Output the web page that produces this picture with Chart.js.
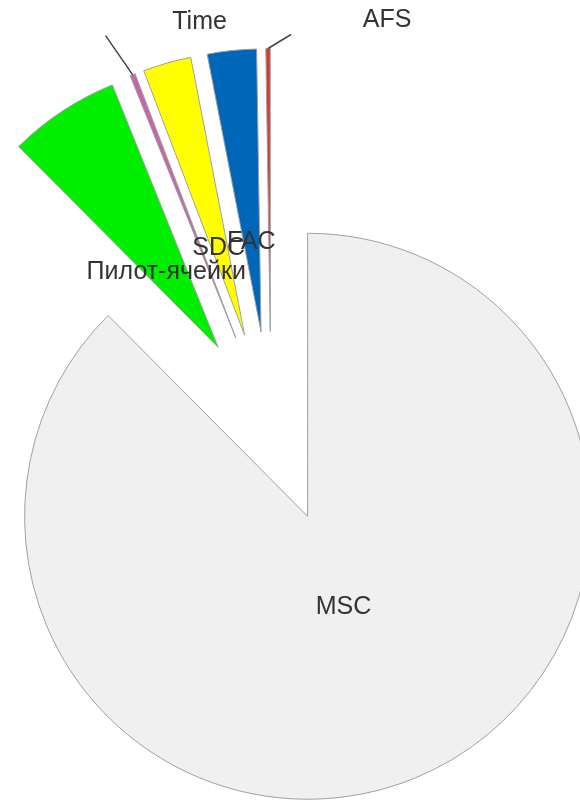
<!DOCTYPE html>
<html>
<head>
<meta charset="utf-8">
<script src="https://cdn.jsdelivr.net/npm/chart.js@4.4.1/dist/chart.umd.min.js"></script>
<style>
  html, body { margin: 0; padding: 0; background: #fff; }
  #wrap { width: 580px; height: 803px; position: relative; }
</style>
</head>
<body>
<div id="wrap"><canvas id="pieChart"></canvas></div>
<script>
// Share of each category, clockwise from 12 o'clock
const categories = ['MSC', 'Пилот-ячейки', 'Time', 'SDC', 'FAC', 'AFS'];
const shares = [87.55, 6.35, 0.3, 2.75, 2.8, 0.25];
const sliceColors = ['#f0f0f0', '#00ee00', '#c466a8', '#ffff00', '#0066b8', '#d23a3a'];

// How far every slice is pulled out from the centre
const explode = 96;

// Small slices get a leader line instead of an inside label
const leaders = {
  'Time': { dx: -27, dy: -39, tx: 94, ty: -14 },
  'AFS': { dx: 23, dy: -14, tx: 96, ty: -14 }
};

const explodePlugin = {
  id: 'explode',
  afterDatasetUpdate(chart, args) {
    const meta = chart.getDatasetMeta(args.index);
    meta.data.forEach(arc => {
      const mid = (arc.startAngle + arc.endAngle) / 2;
      arc.x += Math.cos(mid) * explode;
      arc.y += Math.sin(mid) * explode;
    });
  }
};

const labelPlugin = {
  id: 'sliceLabels',
  afterDatasetsDraw(chart) {
    const ctx = chart.ctx;
    const meta = chart.getDatasetMeta(0);
    ctx.save();
    ctx.font = '25px "Liberation Sans", Arial, sans-serif';
    ctx.fillStyle = '#333';
    ctx.textAlign = 'center';
    ctx.textBaseline = 'middle';
    meta.data.forEach((arc, i) => {
      const mid = (arc.startAngle + arc.endAngle) / 2;
      const r = arc.outerRadius;
      const name = categories[i];
      const lead = leaders[name];
      if (lead) {
        const sx = arc.x + Math.cos(mid) * r;
        const sy = arc.y + Math.sin(mid) * r;
        const ex = sx + lead.dx;
        const ey = sy + lead.dy;
        ctx.strokeStyle = '#444';
        ctx.lineWidth = 1.5;
        ctx.beginPath();
        ctx.moveTo(sx, sy);
        ctx.lineTo(ex, ey);
        ctx.stroke();
        ctx.fillText(name, ex + lead.tx, ey + lead.ty);
      } else {
        // text sits a third of the radius out from the slice tip
        ctx.fillText(name, arc.x + Math.cos(mid) * r / 3, arc.y + Math.sin(mid) * r / 3 + 4);
      }
    });
    ctx.restore();
  }
};

const pieCtx = document.getElementById('pieChart').getContext('2d');
new Chart(pieCtx, {
  type: 'pie',
  data: {
    labels: categories,
    datasets: [{
      data: shares,
      backgroundColor: sliceColors,
      borderColor: '#a0a0a0',
      borderWidth: 1,
      borderJoinStyle: 'miter',
      radius: 283
    }]
  },
  options: {
    responsive: true,
    maintainAspectRatio: false,
    animation: false,
    events: [],
    layout: { padding: { left: 0, right: 38, top: 52, bottom: 0 } },
    plugins: {
      legend: { display: false },
      tooltip: { enabled: false }
    }
  },
  plugins: [explodePlugin, labelPlugin]
});
</script>
</body>
</html>
